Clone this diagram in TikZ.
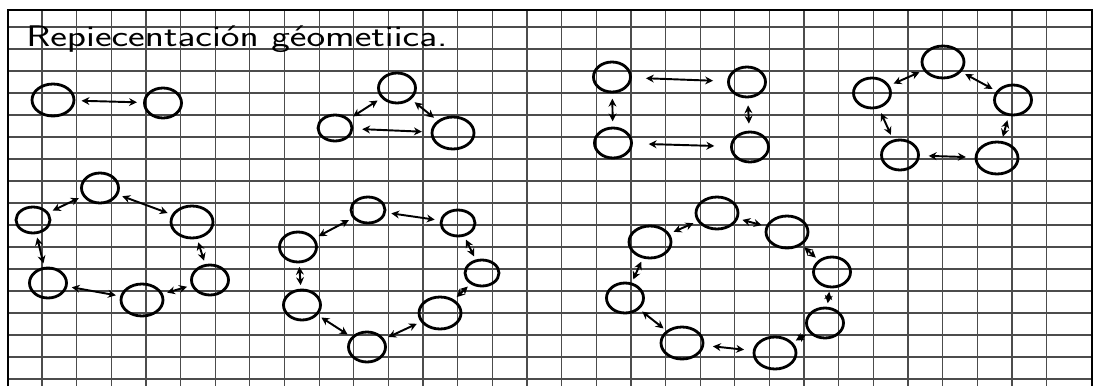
\documentclass[tikz,border=0pt]{standalone}
\usetikzlibrary{shapes.geometric,arrows.meta}
\tikzset{
  ring/.style={draw,ellipse,line width=1.6pt,inner sep=0pt,minimum width=.74cm,minimum height=.6cm},
  fat/.style={minimum width=.84cm,minimum height=.64cm},
  slim/.style={minimum width=.68cm,minimum height=.52cm},
  link/.style={{Stealth[length=4.5pt,width=4.5pt]}-{Stealth[length=4.5pt,width=4.5pt]},line width=1.1pt},
  gridline/.style={black!70,line width=.7pt},
}
\begin{document}
\begin{tikzpicture}[x=.02cm,y=-.02cm]
  \useasboundingbox (0,0) rectangle (1096,386);
  \fill[white] (0,0) rectangle (1096,386);
  % squared paper
  \foreach \k in {0,...,29}
    \draw[gridline] ({42+34.64*\k},10) -- ({42+34.64*\k},386);
  \foreach \k in {0,...,16}
    \draw[gridline] (8,{27+22*\k}) -- (1092,{27+22*\k});
  \draw[line width=1.6pt] (8,386) -- (8,10) -- (1092,10) -- (1092,386);
  \node[anchor=base west,font=\sffamily\fontsize{17}{17}\selectfont,xscale=1.33] (title) at (18,46) {Repiecentación géometiica.};

  % two
  \node[ring,fat] (a1) at (53,100) {};
  \node[ring] (a2) at (163,103) {};
  % three
  \node[ring] (b1) at (397,88) {};
  \node[ring,slim] (b2) at (335,128) {};
  \node[ring,fat] (b3) at (453,133) {};
  % four
  \node[ring] (c1) at (612,77) {};
  \node[ring] (c2) at (747,82) {};
  \node[ring] (c3) at (613,143) {};
  \node[ring] (c4) at (750,147) {};
  % five
  \node[ring,fat] (d1) at (943,62) {};
  \node[ring] (d2) at (872,93) {};
  \node[ring] (d3) at (1013,100) {};
  \node[ring,fat] (d4) at (997,158) {};
  \node[ring] (d5) at (900,155) {};
  % six
  \node[ring] (e1) at (100,188) {};
  \node[ring,fat] (e2) at (192,222) {};
  \node[ring] (e3) at (210,280) {};
  \node[ring,fat] (e4) at (142,300) {};
  \node[ring] (e5) at (48,283) {};
  \node[ring,slim] (e6) at (33,220) {};
  % seven
  \node[ring,slim] (f1) at (368,210) {};
  \node[ring,slim] (f2) at (458,223) {};
  \node[ring,slim] (f3) at (482,273) {};
  \node[ring,fat] (f4) at (440,313) {};
  \node[ring] (f5) at (367,347) {};
  \node[ring] (f6) at (302,305) {};
  \node[ring] (f7) at (298,247) {};
  % eight
  \node[ring,fat] (g1) at (717,213) {};
  \node[ring,fat] (g2) at (787,232) {};
  \node[ring] (g3) at (832,272) {};
  \node[ring] (g4) at (825,323) {};
  \node[ring,fat] (g5) at (775,353) {};
  \node[ring,fat] (g6) at (682,343) {};
  \node[ring] (g7) at (625,298) {};
  \node[ring,fat] (g8) at (650,242) {};

  \foreach \p/\q/\s in {a1/a2/3.5, b2/b1/2.5, b1/b3/2.5, b2/b3/5, c1/c2/8, c3/c4/9, c1/c3/3, c2/c4/4,
      d2/d1/2.5, d1/d3/2.5, d2/d5/3, d3/d4/2.5, d5/d4/5,
      e6/e1/2.5, e1/e2/2.5, e6/e5/2, e2/e3/2, e5/e4/2.5, e4/e3/2.5,
      f7/f1/2.5, f1/f2/3, f2/f3/2, f3/f4/2, f4/f5/2.5, f5/f6/2.5, f6/f7/2,
      g8/g1/2.5, g1/g2/2.5, g2/g3/2, g3/g4/2, g4/g5/2, g5/g6/5, g6/g7/2, g7/g8/2}
    \draw[link,shorten <=\s pt,shorten >=\s pt] (\p) -- (\q);
\end{tikzpicture}
\end{document}
